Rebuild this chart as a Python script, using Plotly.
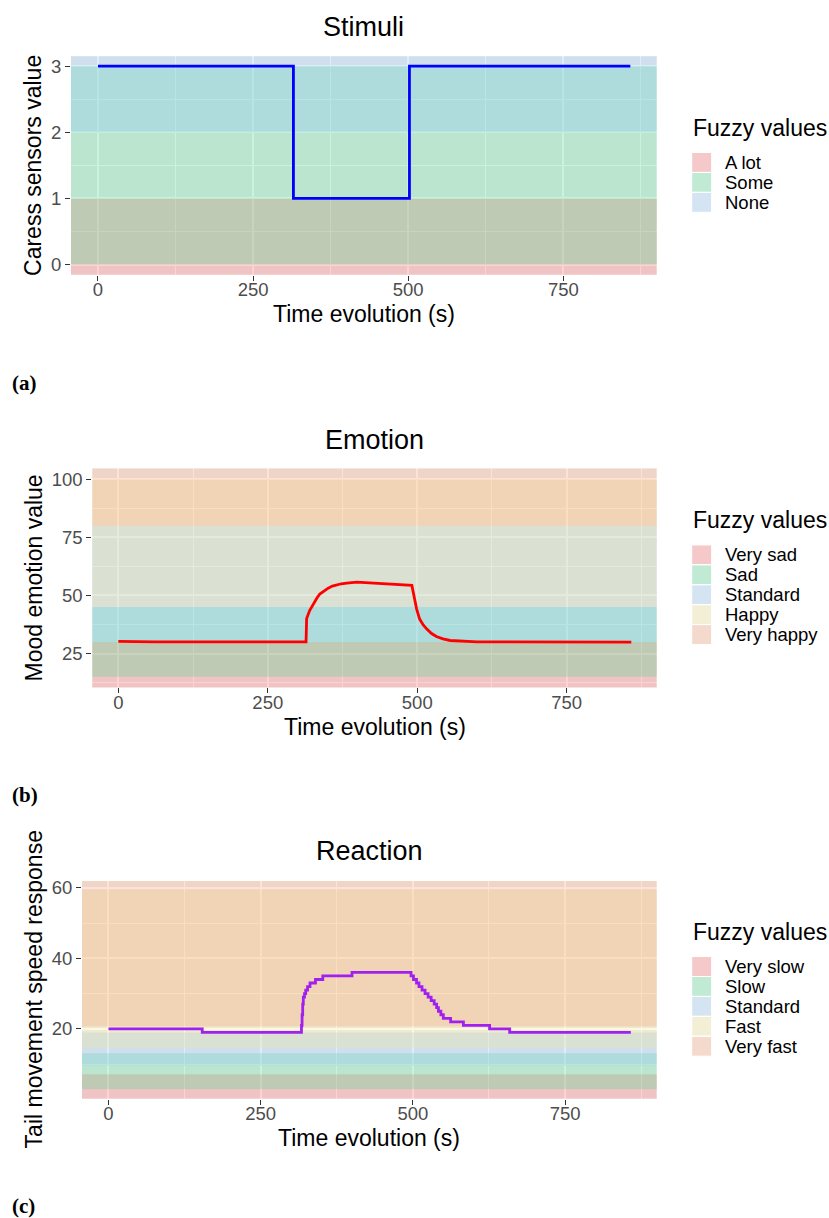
import plotly.graph_objects as go

W, H = 829, 1218

# ---------------- data ----------------
x_ticks = [0, 250, 500, 750]

stim_time = [0, 315, 502, 858]
stim_value = [3, 1, 3, 3]
stim_sets = ["A lot", "Some", "None"]
stim_low = [None, 0, 2]
stim_high = [1, 3, None]
stim_yticks = [0, 1, 2, 3]

emo_time = [0, 20, 60, 314, 315, 320, 326, 332, 337, 344, 351, 358, 365, 373, 382, 399,
            491, 495, 499, 504, 510, 516, 524, 532, 543, 555, 570, 583, 600, 858]
emo_value = [30.2, 30.1, 30.0, 30.0, 40.1, 43.5, 46.3, 48.8, 50.6, 52.0, 53.1, 54.0, 54.6, 55.0, 55.3, 55.7,
             54.3, 49.0, 44.1, 39.8, 37.3, 35.5, 33.6, 32.3, 31.3, 30.6, 30.3, 30.1, 30.0, 29.9]
emo_sets = ["Very sad", "Sad", "Standard", "Happy", "Very happy"]
emo_low = [None, 15, 30, 45, 80]
emo_high = [30, 45, 80, 100, None]
emo_yticks = [25, 50, 75, 100]

reac_time = [0, 154, 317, 318, 319, 320, 322, 324, 327, 331, 340, 352, 400,
             497, 501, 506, 510, 515, 520, 525, 530, 535, 539, 542, 546, 550, 562, 583, 626, 659, 858]
reac_value = [20, 19, 21, 24, 27, 29, 30, 31, 32, 33, 34, 35, 36,
              35, 34, 33, 32, 31, 30, 29, 28, 27, 26, 25, 24, 23, 22, 21, 20, 19, 19]
reac_sets = ["Very slow", "Slow", "Standard", "Fast", "Very fast"]
reac_low = [None, 2.9, 9.6, 14.6, 20.7]
reac_high = [7.1, 13.1, 19.0, 59.3, None]
reac_yticks = [20, 40, 60]

# ---------------- styles ----------------
FONT = "Liberation Sans"
RED = (252, 105, 105)
GREEN = (78, 215, 145)
BLUE = (142, 195, 245)
YELLOW = (245, 232, 150)
ORANGE = (250, 160, 120)
ALPHA = 0.3


def rgba(c, a=ALPHA):
    return "rgba(%d,%d,%d,%.3f)" % (c[0], c[1], c[2], a)


def px_x(p):
    return p / W


def px_y(p):
    return 1 - p / H


panels = [
    dict(title="Stimuli", ytitle="Caress sensors value", t=stim_time, v=stim_value, shape="hv",
         color="#0000FF", sets=stim_sets, low=stim_low, high=stim_high, cols=[RED, GREEN, BLUE],
         yticks=stim_yticks, yminor=0.5, yrange=[-0.155, 3.15],
         left=71, top=52.3, bottom=271.7, title_y=23, xt_y=311, leg_title_y=124, key_top=149, label_y=380,
         tag="(a)"),
    dict(title="Emotion", ytitle="Mood emotion value", t=emo_time, v=emo_value, shape="linear",
         color="#FF0000", sets=emo_sets, low=emo_low, high=emo_high, cols=[RED, GREEN, BLUE, YELLOW, ORANGE],
         yticks=emo_yticks, yminor=12.5, yrange=[10.4, 104.6],
         left=92.3, top=466, bottom=685.7, title_y=437, xt_y=725, leg_title_y=518, key_top=542.7, label_y=794,
         tag="(b)"),
    dict(title="Reaction", ytitle="Tail movement speed response", t=reac_time, v=reac_value, shape="hv",
         color="#A020F0", sets=reac_sets, low=reac_low, high=reac_high, cols=[RED, GREEN, BLUE, YELLOW, ORANGE],
         yticks=reac_yticks, yminor=10, yrange=[0.2, 61.9],
         left=82, top=880, bottom=1098.3, title_y=850, xt_y=1138, leg_title_y=931, key_top=955.7, label_y=1206,
         tag="(c)"),
]

RIGHT = 656.7
fig = go.Figure()
shapes = []
annotations = []
layout_axes = {}

for i, p in enumerate(panels):
    n = "" if i == 0 else str(i + 1)
    xa, ya = "x" + n, "y" + n
    fig.add_trace(go.Scatter(x=p["t"], y=p["v"], mode="lines", line=dict(color=p["color"], width=2.8, shape=p["shape"]),
                             xaxis=xa, yaxis=ya, showlegend=False, hoverinfo="skip"))
    layout_axes["xaxis" + n] = dict(
        domain=[px_x(p["left"]), px_x(RIGHT)], anchor=ya, range=[-43.5, 900.5],
        tickvals=x_ticks, ticks="outside", ticklen=5, tickwidth=1.1, tickcolor="#333333",
        tickfont=dict(family=FONT, size=18.5, color="#4D4D4D"), ticklabelstandoff=-7,
        showgrid=True, gridcolor="white", gridwidth=1.5, zeroline=False, showline=False,
        minor=dict(dtick=125, tick0=0, showgrid=True, gridcolor="white", gridwidth=0.8),
        fixedrange=True,
    )
    layout_axes["yaxis" + n] = dict(
        domain=[px_y(p["bottom"]), px_y(p["top"])], anchor=xa, range=p["yrange"],
        tickvals=p["yticks"], ticks="outside", ticklen=5, tickwidth=1.1, tickcolor="#333333",
        tickfont=dict(family=FONT, size=18.5, color="#4D4D4D"),
        showgrid=True, gridcolor="white", gridwidth=1.5, zeroline=False, showline=False,
        minor=dict(dtick=p["yminor"], tick0=0, showgrid=True, gridcolor="white", gridwidth=0.8),
        fixedrange=True,
    )
    # fuzzy bands
    for lo, hi, c in zip(p["low"], p["high"], p["cols"]):
        y0 = lo if lo is not None else p["yrange"][0] - 1000
        y1 = hi if hi is not None else p["yrange"][1] + 1000
        shapes.append(dict(type="rect", xref=xa, yref=ya, x0=-2000, x1=3000, y0=y0, y1=y1,
                           fillcolor=rgba(c), line=dict(width=0), layer="between"))
    # title
    cx = (p["left"] + RIGHT) / 2
    annotations.append(dict(text=p["title"], x=px_x(cx), y=px_y(p["title_y"]), xref="paper", yref="paper",
                            showarrow=False, xanchor="center", yanchor="middle",
                            font=dict(family=FONT, size=27, color="black")))
    annotations.append(dict(text="Time evolution (s)", x=px_x(cx), y=px_y(p["xt_y"]), xref="paper", yref="paper",
                            showarrow=False, xanchor="center", yanchor="middle",
                            font=dict(family=FONT, size=23, color="black")))
    annotations.append(dict(text=p["ytitle"], x=px_x(33.5), y=px_y((p["top"] + p["bottom"]) / 2),
                            xref="paper", yref="paper", textangle=-90,
                            showarrow=False, xanchor="center", yanchor="middle",
                            font=dict(family=FONT, size=23, color="black")))
    # legend
    annotations.append(dict(text="Fuzzy values", x=px_x(690.5), y=px_y(p["leg_title_y"]), xref="paper", yref="paper",
                            showarrow=False, xanchor="left", yanchor="middle",
                            font=dict(family=FONT, size=23, color="black")))
    kh = 20
    for k, (name, c) in enumerate(zip(p["sets"], p["cols"])):
        ky0 = p["key_top"] + k * kh
        for fill in ["#F2F2F2", rgba(c)]:
            shapes.append(dict(type="rect", xref="paper", yref="paper",
                               x0=px_x(691.7), x1=px_x(711.7), y0=px_y(ky0 + kh), y1=px_y(ky0),
                               fillcolor=fill, line=dict(width=1, color="white"), layer="above"))
        annotations.append(dict(text=name, x=px_x(722.5), y=px_y(ky0 + kh / 2), xref="paper", yref="paper",
                                showarrow=False, xanchor="left", yanchor="middle",
                                font=dict(family=FONT, size=18.5, color="black")))
    annotations.append(dict(text="<b>%s</b>" % p["tag"], x=px_x(10), y=px_y(p["label_y"]), xref="paper", yref="paper",
                            showarrow=False, xanchor="left", yanchor="middle",
                            font=dict(family="Liberation Serif", size=21, color="black")))

fig.update_layout(
    width=W, height=H, autosize=False,
    margin=dict(l=0, r=0, t=0, b=0, pad=0),
    paper_bgcolor="white", plot_bgcolor="#EBEBEB",
    showlegend=False, shapes=shapes, annotations=annotations,
    font=dict(family=FONT),
    **layout_axes,
)

fig.write_html("out.html", config={"displayModeBar": False},
               post_script="document.body.style.margin='0';document.body.style.padding='0';")
